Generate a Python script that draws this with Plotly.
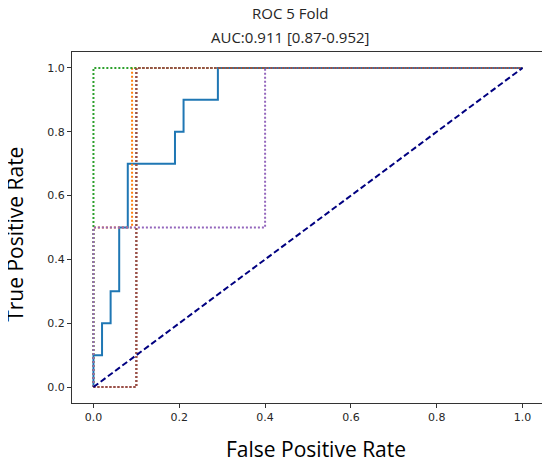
import plotly.graph_objects as go

# mean ROC curve (step points)
mean_fpr = [0.0, 0.0, 0.02, 0.04, 0.06, 0.08, 0.19, 0.21, 0.29, 1.0]
mean_tpr = [0.0, 0.1, 0.2, 0.3, 0.5, 0.7, 0.8, 0.9, 1.0, 1.0]

# per-fold ROC curves (step points)
fold_names = ["Fold 1", "Fold 2", "Fold 3", "Fold 4", "Fold 5"]
fold_fpr = [
    [0.0, 0.0, 0.09, 1.0],
    [0.0, 0.0, 1.0],
    [0.0, 0.1, 0.1, 1.0],
    [0.0, 0.0, 0.4, 1.0],
    [0.0, 0.1, 0.1, 1.0],
]
fold_tpr = [
    [0.0, 0.5, 1.0, 1.0],
    [0.0, 1.0, 1.0],
    [0.0, 0.0, 1.0, 1.0],
    [0.0, 0.5, 1.0, 1.0],
    [0.0, 0.0, 1.0, 1.0],
]
fold_colors = ["#ff7f0e", "#2ca02c", "#d62728", "#9467bd", "#8c564b"]

chance = [0.0, 1.0]
ticks = [0.0, 0.2, 0.4, 0.6, 0.8, 1.0]
tick_text = ["0.0", "0.2", "0.4", "0.6", "0.8", "1.0"]

title_lines = ["ROC 5 Fold", "AUC:0.911 [0.87-0.952]"]
x_label = "False Positive Rate"
y_label = "True Positive Rate"

fig = go.Figure()

fig.add_trace(go.Scatter(
    x=mean_fpr, y=mean_tpr, mode="lines", line_shape="hv",
    line=dict(color="#1f77b4", width=2), name="Mean ROC"))

for name, fx, fy, col in zip(fold_names, fold_fpr, fold_tpr, fold_colors):
    fig.add_trace(go.Scatter(
        x=fx, y=fy, mode="lines", line_shape="hv",
        line=dict(color=col, width=2, dash="2px,2px"), name=name))

fig.add_trace(go.Scatter(
    x=chance, y=chance, mode="lines",
    line=dict(color="#000080", width=2, dash="6px,3px"), name="Chance"))

axis_common = dict(
    tickvals=ticks, ticktext=tick_text, range=[-0.05, 1.05],
    showgrid=False, zeroline=False, showline=True, mirror=True,
    linecolor="#333333", linewidth=1, automargin=False,
    ticks="outside", ticklen=4, tickcolor="#333333",
    tickfont=dict(family="DejaVu Sans", size=11, color="#262626"),
)

# the page adds an 8px body margin, so margins are offset to compensate
fig.update_layout(
    width=550, height=465,
    margin=dict(l=64, r=14, t=44, b=70, autoexpand=False),
    paper_bgcolor="white", plot_bgcolor="white",
    showlegend=False,
    xaxis=axis_common,
    yaxis=axis_common,
)

for i, line in enumerate(title_lines):
    fig.add_annotation(
        text=line, xref="paper", yref="paper", x=0.462, y=1,
        yshift=39 - 24 * i, showarrow=False, xanchor="center", yanchor="middle",
        font=dict(family="Open Sans", size=15, color="#262626"))

fig.add_annotation(
    text=x_label, xref="paper", yref="paper", x=0.517, y=0,
    yshift=-46, showarrow=False, xanchor="center", yanchor="middle",
    font=dict(family="Open Sans", size=21, color="black"))

fig.add_annotation(
    text=y_label, xref="paper", yref="paper", x=0, y=0.479,
    xshift=-57, textangle=-90, showarrow=False, xanchor="center", yanchor="middle",
    font=dict(family="Open Sans", size=21, color="black"))

fig.write_html("out.html")
